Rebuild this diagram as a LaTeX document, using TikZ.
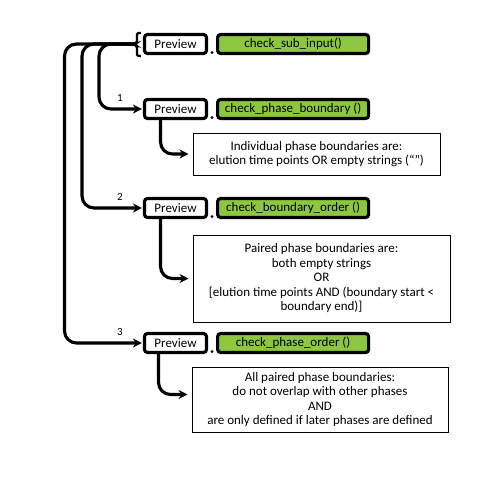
\documentclass[tikz,border=0pt]{standalone}
\usepackage{fontspec}
\setmainfont{Carlito}
\usepackage{tikz}
\usetikzlibrary{arrows.meta, positioning}

\definecolor{fngreen}{RGB}{141,198,63}
\tikzset{
	prevbox/.style = {draw, line width = 1.1mm, rounded corners = 3pt, fill = white, minimum width = 62pt, minimum height = 19pt, inner sep = 0pt, font = \fontsize{13}{15}\selectfont},
	fnbox/.style = {prevbox, fill = fngreen, minimum width = 151pt},
	notebox/.style = {draw, line width = .35mm, align = center, inner sep = 0pt, font = \fontsize{13}{14.5}\selectfont},
	conn/.style = {line width = 1.1mm, rounded corners = 12pt, arrows = {-Stealth[length = 9pt, width = 9pt]}},
	numlbl/.style = {font = \fontsize{11}{13}\selectfont, inner sep = 0pt}
}

\begin{document}
\begin{tikzpicture}[x = 1pt, y = -1pt]
		\useasboundingbox (0, 0) rectangle (480, 480);
		% call rows
		\node[prevbox] (prev0) at (175.5, 44) {Preview};
		\node[fnbox, right = 8pt of prev0] (fn0) {check\_sub\_input()};
		\node[prevbox] (prev1) at (175.5, 109) {Preview};
		\node[fnbox, right = 8pt of prev1] (fn1) {check\_phase\_boundary ()};
		\node[prevbox] (prev2) at (175.5, 208) {Preview};
		\node[fnbox, right = 8pt of prev2] (fn2) {check\_boundary\_order ()};
		\node[prevbox] (prev3) at (175.5, 343) {Preview};
		\node[fnbox, right = 8pt of prev3] (fn3) {check\_phase\_order ()};
		\foreach \i in {0, 1, 2, 3}
			\fill ([xshift = 4pt, yshift = 2.5pt]prev\i.south east) circle (1.6);
		% rules
		\node[notebox, minimum width = 247pt, minimum height = 42pt] (note1) at (316.5, 154) {Individual phase boundaries are:\\elution time points OR empty strings (“”)};
		\node[notebox, minimum width = 257pt, minimum height = 87pt] (note2) at (321.5, 278.5) {Paired phase boundaries are:\\both empty strings\\OR\\{[elution time points AND (boundary start <}\\boundary end)]};
		\node[notebox, minimum width = 256pt, minimum height = 65pt] (note3) at (320, 399.5) {All paired phase boundaries:\\do not overlap with other phases\\AND\\are only defined if later phases are defined};
		% brace
		\draw[line width = .8mm, rounded corners = 2pt] ([xshift = -2pt]prev0.north west) -- ++(-4, 0) -- ++(0, 10.5) -- ++(-3, 1) -- ++(3, 1) -- ++(0, 10.5) -- ++(4, 0);
		\coordinate (hub) at (135, 44);
		\coordinate (v1) at (99, 44);
		\coordinate (v2) at (82, 44);
		\coordinate (v3) at (64.5, 44);
		% branches
		\draw[conn] (hub) -- (v1) |- ([xshift = -1pt]prev1.west);
		\draw[conn] (hub) -- (v2) |- ([xshift = -1pt]prev2.west);
		\draw[conn] (hub) -- (v3) |- ([xshift = -1pt]prev3.west);
		\node[numlbl] (n1) at (120, 98) {1};
		\node[numlbl] (n2) at (120, 197) {2};
		\node[numlbl] (n3) at (120, 332) {3};
		% checks
		\draw[conn] ([xshift = -15pt]prev1.south) |- ([xshift = -4pt]note1.west);
		\draw[conn] ([xshift = -15pt]prev2.south) |- ([xshift = -4pt]note2.west);
		\draw[conn] ([xshift = -17pt]prev3.south) |- ([xshift = -4pt, yshift = 5pt]note3.west);
	\end{tikzpicture}
\end{document}
